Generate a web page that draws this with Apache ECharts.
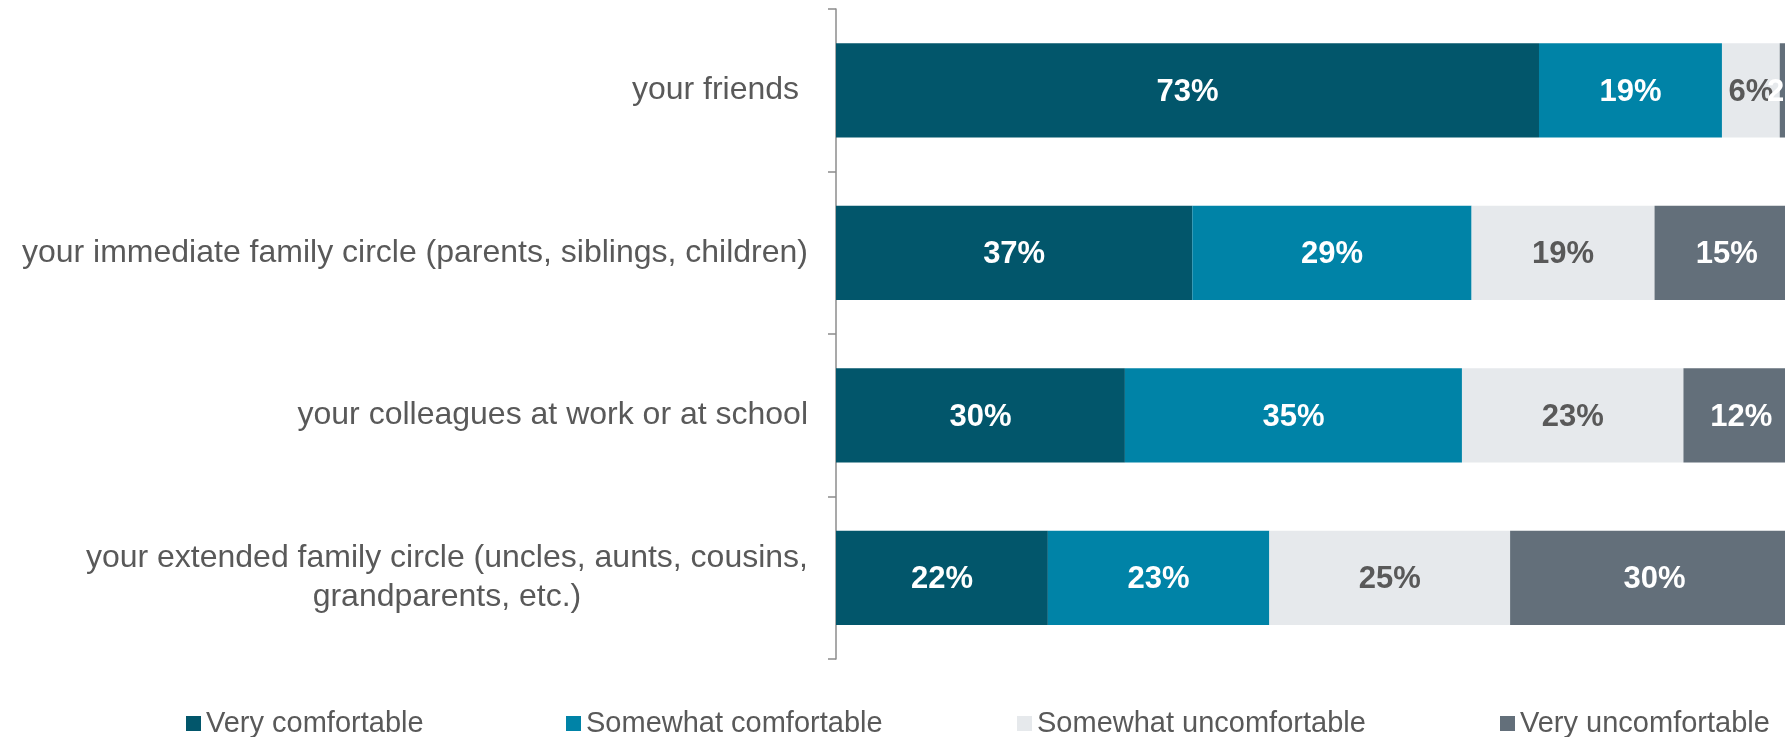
<!DOCTYPE html>
<html>
<head>
<meta charset="utf-8">
<script src="https://cdn.jsdelivr.net/npm/echarts@6/dist/echarts.min.js"></script>
<style>
html,body{margin:0;padding:0;background:#fff;}
#chart{width:1785px;height:737px;}
</style>
</head>
<body>
<div id="chart"></div>
<script>
var categories = [
  'your friends ',
  'your immediate family circle (parents, siblings, children)',
  'your colleagues at work or at school',
  'your extended family circle (uncles, aunts, cousins,\ngrandparents, etc.)'
];
var seriesNames = ['Very comfortable', 'Somewhat comfortable', 'Somewhat uncomfortable', 'Very uncomfortable'];
var veryComfortable = [73, 37, 30, 22];
var somewhatComfortable = [19, 29, 35, 23];
var somewhatUncomfortable = [6, 19, 23, 25];
var veryUncomfortable = [2, 15, 12, 30];

var colors = ['#02566B', '#0083A7', '#E6E9EC', '#636F7A'];
var labelColors = ['#FFFFFF', '#FFFFFF', '#595959', '#FFFFFF'];
var values = [veryComfortable, somewhatComfortable, somewhatUncomfortable, veryUncomfortable];
var FONT = '"Liberation Sans", Arial, sans-serif';

var chart = echarts.init(document.getElementById('chart'), null, {renderer: 'canvas'});

var series = seriesNames.map(function (name, i) {
  return {
    name: name,
    type: 'bar',
    stack: 'total',
    barWidth: '58%',
    data: values[i],
    itemStyle: {color: colors[i]},
    label: {
      show: true,
      position: 'inside',
      offset: [0, 2],
      formatter: '{c}%',
      color: labelColors[i],
      fontFamily: FONT,
      fontWeight: 'bold',
      fontSize: 31
    },
    emphasis: {disabled: true}
  };
});

var legendLefts = [181, 561, 1012, 1495];
var legends = seriesNames.map(function (name, i) {
  return {
    data: [name],
    left: legendLefts[i],
    top: 704,
    icon: 'rect',
    itemWidth: 15,
    itemHeight: 15,
    textStyle: {fontFamily: FONT, fontSize: 29, color: '#595959'},
    selectedMode: false
  };
});

chart.setOption({
  animation: false,
  backgroundColor: '#ffffff',
  grid: {left: 836, width: 963, top: 9, bottom: 78, containLabel: false, outerBoundsMode: 'none'},
  xAxis: {type: 'value', min: 0, max: 100, show: false},
  yAxis: {
    type: 'category',
    inverse: true,
    data: categories,
    axisLine: {show: true, lineStyle: {color: '#8C8C8C', width: 1.5}},
    axisTick: {show: true, length: 8, lineStyle: {color: '#8C8C8C', width: 1.5}},
    axisLabel: {
      margin: 28,
      color: '#595959',
      fontFamily: FONT,
      fontSize: 32,
      lineHeight: 39,
      formatter: function (v) {
        return v.split('\n').map(function (l) { return '{c|' + l + '}'; }).join('\n');
      },
      rich: {
        c: {align: 'center', fontFamily: FONT, fontSize: 32, color: '#595959', lineHeight: 39}
      }
    }
  },
  legend: legends,
  series: series
});
</script>
</body>
</html>
